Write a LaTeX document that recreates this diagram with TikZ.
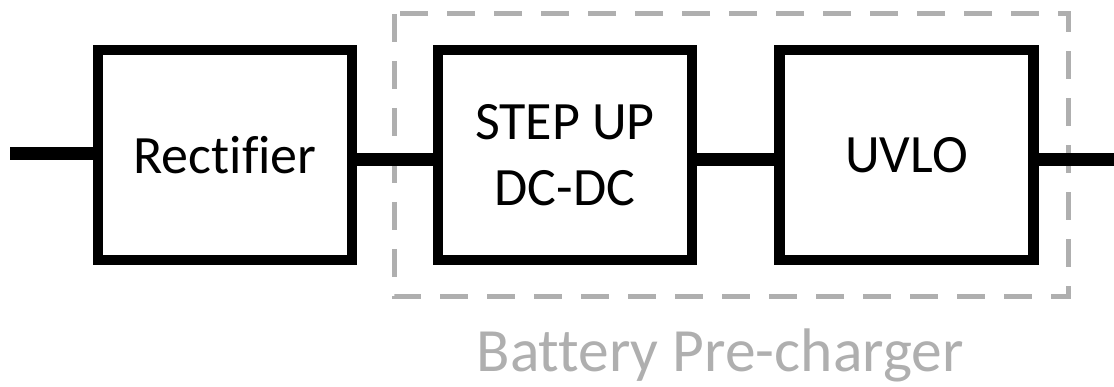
\documentclass[tikz,border=0pt]{standalone}
\usepackage{fontspec}
\setmainfont[Ligatures=NoCommon]{Carlito}
\definecolor{framegray}{RGB}{175,175,175}

\begin{document}
\begin{tikzpicture}[x=1pt, y=-1pt,
    block/.style={draw, line width=10.5pt, minimum width=254pt, minimum height=210pt,
      inner sep=0pt, align=center, font=\fontsize{54}{66}\selectfont},
    link/.style={line width=13pt},
    grouping/.style={draw=framegray, line width=5pt, dash pattern=on 28pt off 19pt}]
  \useasboundingbox (0,0) rectangle (1114,387);
  % Pre-charger frame
  \draw[grouping] (394,14) rectangle (1068,297);
  \node[text=framegray, font=\fontsize{61.5}{70}\selectfont, anchor=base] (caption) at (720,371) {Battery Pre-charger};
  % Blocks
  \node[block] (rect) at (225,155) {Rectifier};
  \node[block] (boost) at (565,155) {STEP UP\\DC-DC};
  \node[block] (uvlo) at (906.5,155) {UVLO};
  % Wires
  \coordinate (in) at (10,153.5);
  \coordinate (out) at (1114,160);
  \draw[link] (in) -- (in -| rect.west);
  \draw[link] ([yshift=-5pt]rect.east) -- ([yshift=-5pt]boost.west);
  \draw[link] ([yshift=-5pt]boost.east) -- ([yshift=-5pt]uvlo.west);
  \draw[link] ([yshift=-5pt]uvlo.east) -- (out);
\end{tikzpicture}
\end{document}
